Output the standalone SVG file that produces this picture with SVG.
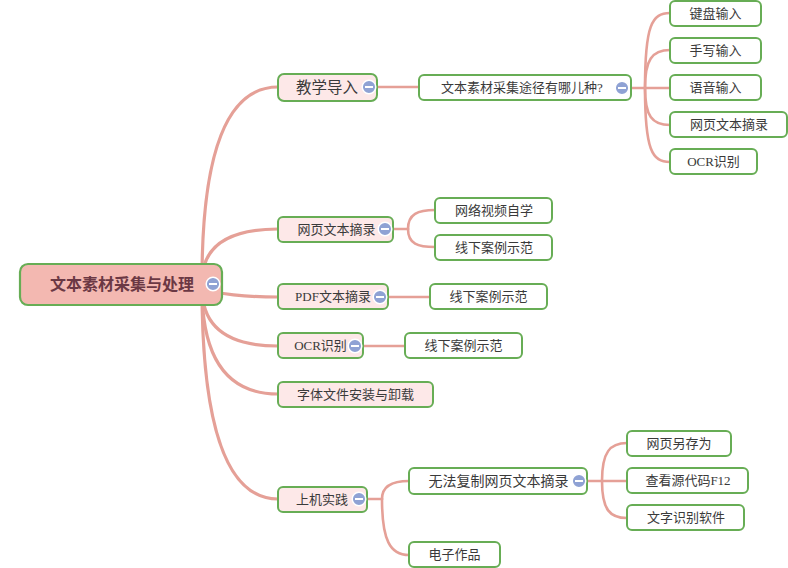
<svg xmlns="http://www.w3.org/2000/svg" width="788" height="568" viewBox="0 0 788 568">
<defs>
<style>
.root rect{fill:#f3b8b1;stroke:#67ad55;stroke-width:2.2}
.l1 rect{fill:#fde8e8;stroke:#67ad55;stroke-width:2}
.l2 rect{fill:#ffffff;stroke:#67ad55;stroke-width:2}
text{font-family:"Liberation Serif","Noto Sans CJK SC",serif;text-anchor:middle;fill:#3a3a3a;font-size:13px}
.root text{font-size:16px;fill:#6b3844;font-weight:bold}
.big{font-size:15.5px}
.conn path{fill:none;stroke:#e5a097;stroke-width:2.6;stroke-linecap:round}
.conn .thick{stroke-width:3.2}
.btn circle{fill:#8fa2d4;stroke:#ffffff;stroke-width:1.5}
.btn line{stroke:#ffffff;stroke-width:2}
</style>
<g id="btn" class="btn"><circle cx="0" cy="0" r="6.8"/><line x1="-4" y1="0" x2="4" y2="0"/></g>
</defs>
<g id="connectors" class="conn">
<path class="thick" d="M202,280 Q202,87 278,87"/>
<path class="thick" d="M202,282 Q202,229 278,229"/>
<path class="thick" d="M214,292 Q240,297 278,297"/>
<path class="thick" d="M202,288 Q202,346 278,346"/>
<path class="thick" d="M202,288 Q202,394 278,394"/>
<path class="thick" d="M202,288 Q202,499 278,499"/>
<path d="M377,87 H419"/>
<path d="M631,88 H670"/>
<path d="M645,88 C645,25 652,13 670,13"/>
<path d="M645,88 C645,60 652,50 670,50"/>
<path d="M645,88 C645,116 652,125 670,125"/>
<path d="M645,88 C645,150 652,162 670,162"/>
<path d="M393,229 H408"/>
<path d="M408,229 C408,214 418,210 435,210"/>
<path d="M408,229 C408,244 418,247 435,247"/>
<path d="M388,297 H430"/>
<path d="M363,346 H405"/>
<path d="M367,499 H382"/>
<path d="M382,499 C382,486 392,481 409,481"/>
<path d="M382,499 C382,540 390,555 409,555"/>
<path d="M587,481 H627"/>
<path d="M602,481 C602,452 610,443 627,443"/>
<path d="M602,481 C602,510 610,518 627,518"/>
</g>
<g id="n-root" class="root"><rect x="20" y="264" width="202" height="41" rx="8"/><text x="122" y="290">文本素材采集与处理</text><use href="#btn" x="213" y="284"/></g>
<g id="n-jxdr" class="l1"><rect x="278" y="74" width="99" height="27" rx="6"/><text class="big" x="327" y="93">教学导入</text><use href="#btn" x="369" y="87"/></g>
<g id="n-tj" class="l2"><rect x="419" y="75" width="212" height="25" rx="5"/><text x="522" y="92">文本素材采集途径有哪儿种?</text><use href="#btn" x="622" y="88"/></g>
<g id="n-jp" class="l2"><rect x="670" y="1" width="91" height="25" rx="5"/><text x="715.5" y="18">键盘输入</text></g>
<g id="n-sx" class="l2"><rect x="670" y="38" width="91" height="25" rx="5"/><text x="715.5" y="55">手写输入</text></g>
<g id="n-yy" class="l2"><rect x="670" y="75" width="91" height="25" rx="5"/><text x="715.5" y="92">语音输入</text></g>
<g id="n-wy3" class="l2"><rect x="670" y="112" width="117" height="25" rx="5"/><text x="729" y="129">网页文本摘录</text></g>
<g id="n-ocr3" class="l2"><rect x="670" y="149" width="87" height="25" rx="5"/><text x="713.5" y="166">OCR识别</text></g>
<g id="n-wy" class="l1"><rect x="278" y="217" width="115" height="25" rx="5"/><text x="336.5" y="234">网页文本摘录</text><use href="#btn" x="385" y="229"/></g>
<g id="n-spzx" class="l2"><rect x="435" y="198" width="117" height="25" rx="5"/><text x="494" y="215">网络视频自学</text></g>
<g id="n-xx1" class="l2"><rect x="435" y="235" width="117" height="25" rx="5"/><text x="494" y="252">线下案例示范</text></g>
<g id="n-pdf" class="l1"><rect x="278" y="284" width="110" height="25" rx="5"/><text x="333" y="301">PDF文本摘录</text><use href="#btn" x="380" y="297"/></g>
<g id="n-xx2" class="l2"><rect x="430" y="284" width="117" height="25" rx="5"/><text x="488.5" y="301">线下案例示范</text></g>
<g id="n-ocr" class="l1"><rect x="278" y="333" width="85" height="25" rx="5"/><text x="320.5" y="350">OCR识别</text><use href="#btn" x="355" y="346"/></g>
<g id="n-xx3" class="l2"><rect x="405" y="333" width="117" height="25" rx="5"/><text x="463.5" y="350">线下案例示范</text></g>
<g id="n-zt" class="l1"><rect x="278" y="382" width="155" height="25" rx="5"/><text x="355.5" y="399">字体文件安装与卸载</text></g>
<g id="n-sj" class="l1"><rect x="278" y="487" width="89" height="25" rx="5"/><text x="322" y="504">上机实践</text><use href="#btn" x="359" y="499"/></g>
<g id="n-wf" class="l2"><rect x="409" y="468" width="178" height="26" rx="5"/><text x="498.5" y="486" style="font-size:14px">无法复制网页文本摘录</text><use href="#btn" x="579" y="481"/></g>
<g id="n-dz" class="l2"><rect x="409" y="542" width="91" height="25" rx="5"/><text x="454.5" y="559">电子作品</text></g>
<g id="n-lc" class="l2"><rect x="627" y="431" width="104" height="25" rx="5"/><text x="679" y="448">网页另存为</text></g>
<g id="n-ck" class="l2"><rect x="627" y="468" width="121" height="25" rx="5"/><text x="688" y="485">查看源代码F12</text></g>
<g id="n-wz" class="l2"><rect x="627" y="505" width="117" height="25" rx="5"/><text x="686" y="522">文字识别软件</text></g>
</svg>
